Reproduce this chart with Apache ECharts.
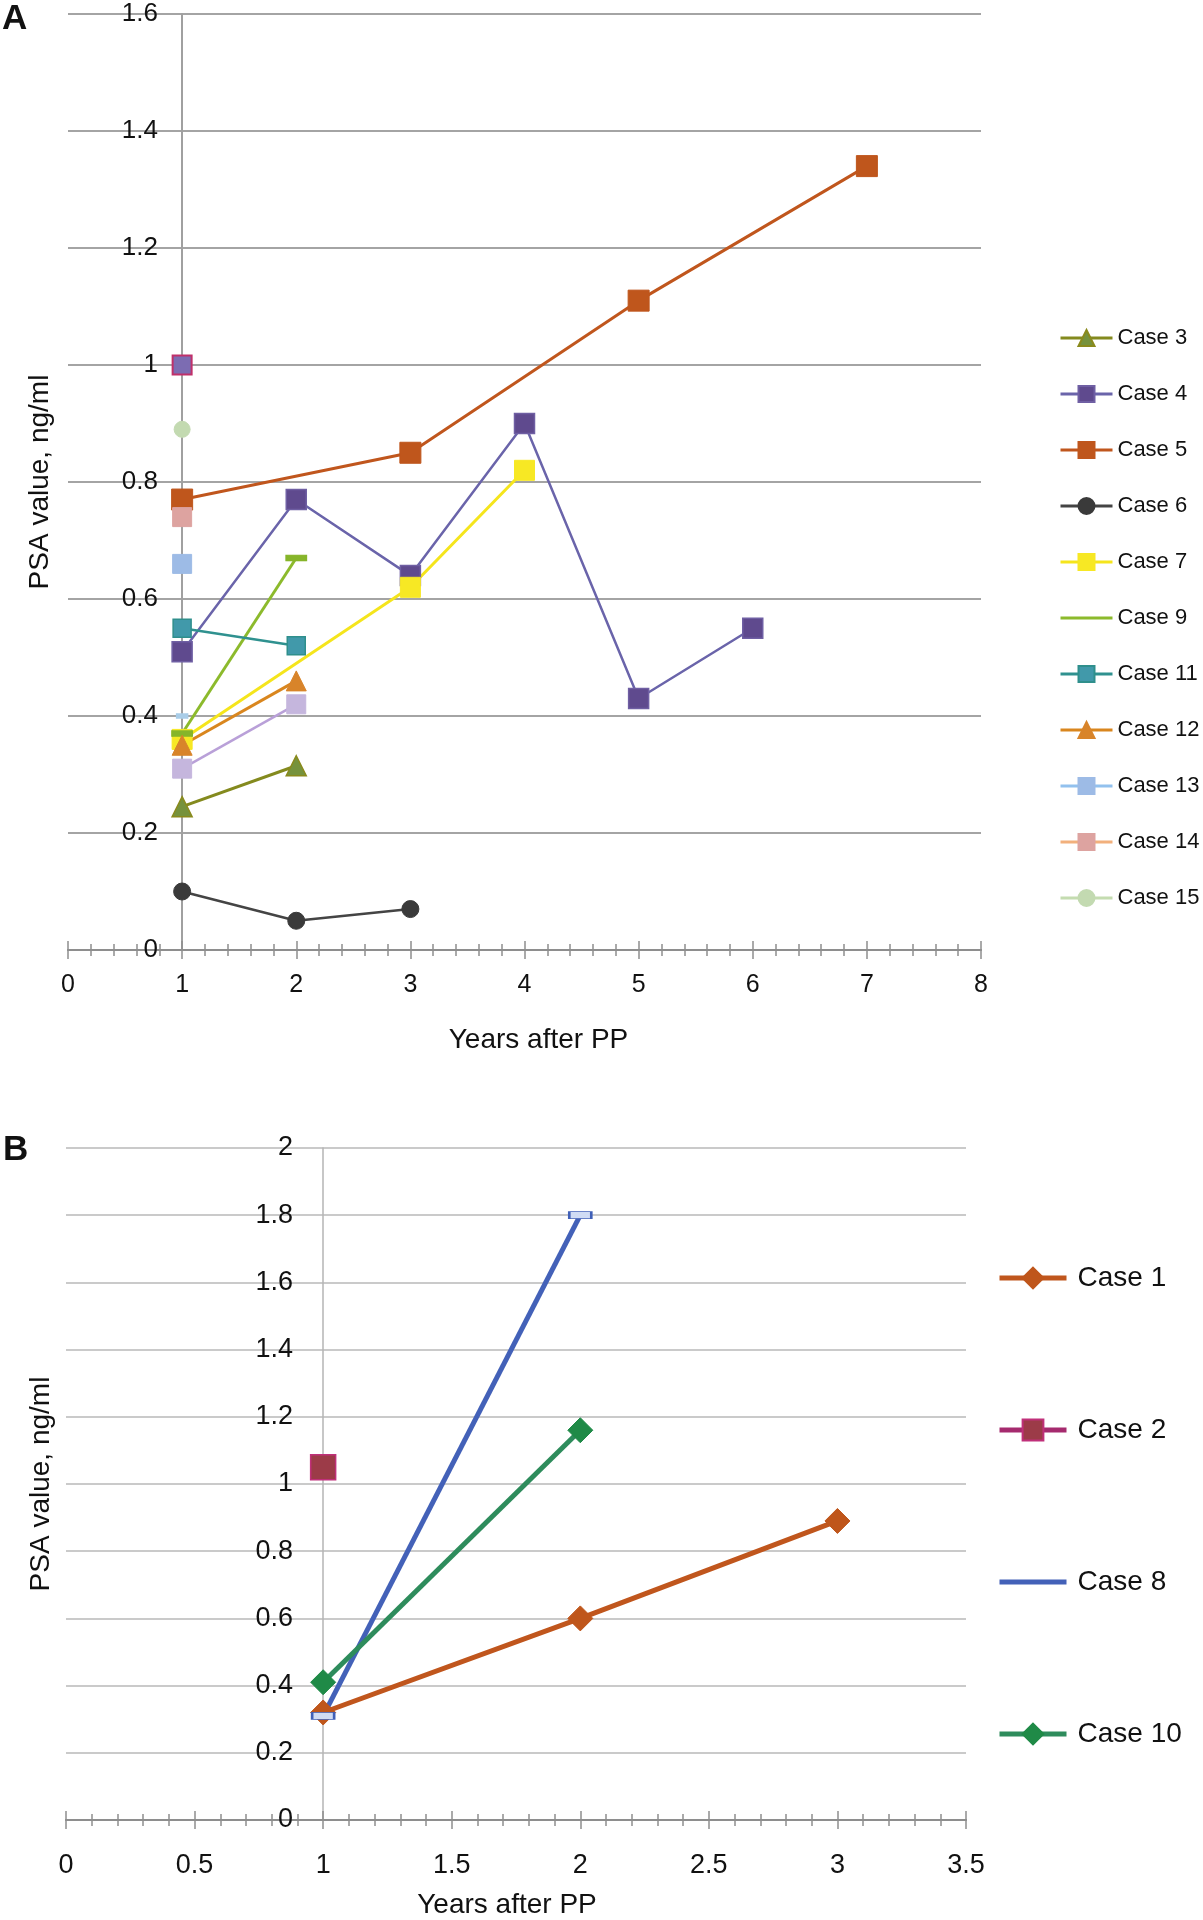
<!DOCTYPE html>
<html><head><meta charset="utf-8">
<script src="https://cdn.jsdelivr.net/npm/echarts@6/dist/echarts.min.js"></script>
<style>html,body{margin:0;padding:0;background:#fff}#c{width:1203px;height:1920px}</style>
</head><body><div id="c"></div>
<script>
// ---------- Panel A data: [years after PP, PSA ng/ml] ----------
const case3  = [[1,0.245],[2,0.315]];
const case4  = [[1,0.51],[2,0.77],[3,0.64],[4,0.90],[5,0.43],[6,0.55]];
const case5  = [[1,0.77],[3,0.85],[5,1.11],[7,1.34]];
const case6  = [[1,0.10],[2,0.05],[3,0.07]];
const case7  = [[1,0.36],[3,0.62],[4,0.82]];
const case9  = [[1,0.37],[2,0.67]];
const case11 = [[1,0.55],[2,0.52]];
const case12 = [[1,0.35],[2,0.46]];
const case13 = [[1,0.66]];
const case14 = [[1,0.74]];
const case15 = [[1,0.89]];
const extraLavender = [[1,0.31],[2,0.42]];
const extraAtOne    = [[1,1.0]];
const extraDash     = [[1,0.40]];
const legendA = ['Case 3','Case 4','Case 5','Case 6','Case 7','Case 9','Case 11','Case 12','Case 13','Case 14','Case 15'];

// ---------- Panel B data ----------
const case1  = [[1,0.32],[2,0.60],[3,0.89]];
const case2  = [[1,1.05]];
const case8  = [[1,0.31],[2,1.80]];
const case10 = [[1,0.41],[2,1.16]];
const legendB = ['Case 1','Case 2','Case 8','Case 10'];

const FONT = "'Liberation Sans', Arial, Helvetica, sans-serif";
const TXT = '#111111';
const DASH = 'path://M0,0H10V3H0Z';
const NO_SYMBOL_IN_LEGEND = ['Case 9', 'Case 8'];

function mk(name, data, lineColor, markColor, symbol, size, lw, xi, yi, extra) {
  const s = {
    name, type: 'line', data, xAxisIndex: xi, yAxisIndex: yi,
    symbol, symbolSize: size, symbolKeepAspect: false, showAllSymbol: true,
    lineStyle: { color: lineColor, width: lw },
    itemStyle: { color: markColor, borderColor: markColor, borderWidth: 1, opacity: 1 },
    emphasis: { disabled: true }, animation: false, z: 3
  };
  if (extra && extra.border) { s.itemStyle.borderColor = extra.border; s.itemStyle.borderWidth = extra.bw || 1.5; }
  return s;
}

function legendItems(names) {
  return names.map(n => NO_SYMBOL_IN_LEGEND.indexOf(n) >= 0
    ? { name: n, itemStyle: { opacity: 0 } }
    : { name: n });
}

const axisGrayA = '#8e8e8e';
function xAxisPair(grid, min, max, interval, labelSize, margin, nameGap, namePad) {
  const common = {
    type: 'value', gridIndex: grid, min, max, interval, position: 'bottom',
    axisLine: { show: true, onZero: false, lineStyle: { color: axisGrayA, width: 2 } },
    splitLine: { show: false }
  };
  return [
    Object.assign({}, common, {
      axisTick: { show: true, length: 9, lineStyle: { color: axisGrayA, width: 1.5 } },
      minorTick: { show: true, splitNumber: 5, length: 6, lineStyle: { color: axisGrayA, width: 1.5 } },
      axisLabel: { fontSize: labelSize, color: TXT, fontFamily: FONT, margin, lineHeight: labelSize },
      name: 'Years after PP', nameLocation: 'middle', nameGap,
      nameTextStyle: { fontSize: 28, color: TXT, fontFamily: FONT, lineHeight: 28, padding: namePad }
    }),
    Object.assign({}, common, {
      axisTick: { show: true, inside: true, length: 9, lineStyle: { color: axisGrayA, width: 1.5 } },
      minorTick: { show: true, splitNumber: 5, length: 6, lineStyle: { color: axisGrayA, width: 1.5 } },
      axisLabel: { show: false }
    })
  ];
}

const option = {
  backgroundColor: '#ffffff',
  animation: false,
  textStyle: { fontFamily: FONT },
  grid: [
    { left: 68, top: 14, width: 913, height: 936 },
    { left: 66, top: 1148, width: 900, height: 674 }
  ],
  xAxis: [].concat(
    xAxisPair(0, 0, 8, 1, 25, 23, 76, [0, 0, 0, 28]),
    xAxisPair(1, 0, 3.5, 0.5, 27, 32, 71, [0, 18, 0, 0])
  ),
  yAxis: [
    {
      type: 'value', gridIndex: 0, min: 0, max: 1.6, interval: 0.2, offset: -114,
      axisLine: { show: true, onZero: false, lineStyle: { color: '#a0a0a0', width: 2 } },
      axisTick: { show: false },
      axisLabel: { fontSize: 26, color: TXT, fontFamily: FONT, margin: 24 },
      splitLine: { show: true, lineStyle: { color: '#a4a4a4', width: 2 } },
      name: 'PSA value, ng/ml', nameLocation: 'middle', nameGap: 128, nameRotate: 90,
      nameTextStyle: { fontSize: 28, color: TXT, fontFamily: FONT }
    },
    {
      type: 'value', gridIndex: 1, min: 0, max: 2, interval: 0.2, offset: -257,
      axisLine: { show: true, onZero: false, lineStyle: { color: '#b4b4b4', width: 1.5 } },
      axisTick: { show: false },
      axisLabel: { fontSize: 27, color: TXT, fontFamily: FONT, margin: 30 },
      splitLine: { show: true, lineStyle: { color: '#b8b8b8', width: 1.5 } },
      name: 'PSA value, ng/ml', nameLocation: 'middle', nameGap: 268, nameRotate: 90,
      nameTextStyle: { fontSize: 28, color: TXT, fontFamily: FONT }
    }
  ],
  legend: [
    {
      data: legendItems(legendA), orient: 'vertical', left: 1054, top: 322,
      itemWidth: 52, itemHeight: 20, itemGap: 34,
      lineStyle: { width: 3 },
      textStyle: { fontSize: 22, color: TXT, fontFamily: FONT, lineHeight: 22 },
      selectedMode: false
    },
    {
      data: legendItems(legendB), orient: 'vertical', left: 992, top: 1259,
      itemWidth: 67, itemHeight: 26, itemGap: 124,
      lineStyle: { width: 5 },
      textStyle: { fontSize: 28, color: TXT, fontFamily: FONT, lineHeight: 28, padding: [0, 0, 0, 6] },
      selectedMode: false
    }
  ],
  graphic: [
    { type: 'text', left: 2, top: 2, style: { text: 'A', fontSize: 35, fontWeight: 'bold', fontFamily: FONT, fill: TXT } },
    { type: 'text', left: 3, top: 1133, style: { text: 'B', fontSize: 35, fontWeight: 'bold', fontFamily: FONT, fill: TXT } }
  ],
  series: [
    mk('Case 3',  case3,  '#848a1e', '#76923c', 'triangle', 20, 3, 0, 0, { border: '#8a8a1c' }),
    mk('Case 4',  case4,  '#6a64aa', '#5f4a8e', 'rect', 20, 2.5, 0, 0, { border: '#6f5fa3' }),
    mk('Case 5',  case5,  '#c0561d', '#bf561c', 'rect', 21, 3, 0, 0),
    mk('Case 6',  case6,  '#444444', '#3a3a3a', 'circle', 17, 2.5, 0, 0),
    mk('Case 7',  case7,  '#f5e51c', '#f7e824', 'rect', 20, 3, 0, 0),
    mk('Case 9',  case9,  '#8cba2c', '#86b52a', DASH, [20, 6], 3, 0, 0),
    mk('Case 11', case11, '#2f918f', '#4199aa', 'rect', 18, 2.5, 0, 0, { border: '#2f8f8c' }),
    mk('Case 12', case12, '#d9861e', '#d8842a', 'triangle', 20, 3, 0, 0),
    mk('Case 13', case13, '#92c1ee', '#9dbbe6', 'rect', 19, 3, 0, 0),
    mk('Case 14', case14, '#f2b07c', '#dda3a0', 'rect', 19, 3, 0, 0),
    mk('Case 15', case15, '#c4dcb0', '#c3dab1', 'circle', 16, 3, 0, 0),
    mk('A-extra-1', extraLavender, '#b9a0d8', '#c5b6dd', 'rect', 19, 2.5, 0, 0),
    mk('A-extra-2', extraAtOne, '#b02c5c', '#7c6cb2', 'rect', 19, 2, 0, 0, { border: '#c0306a', bw: 2 }),
    mk('A-extra-3', extraDash, '#a9cde8', '#a9cde8', DASH, [11, 5], 2, 0, 0),

    mk('Case 1',  case1,  '#c0561d', '#bf561b', 'diamond', 25, 5, 2, 1),
    mk('Case 2',  case2,  '#a52a6e', '#9c3b48', 'rect', 25, 5, 2, 1, { border: '#c0307a', bw: 1.5 }),
    mk('Case 8',  case8,  '#4361b8', '#d0dcf4', DASH, [22, 7], 5, 2, 1, { border: '#4060b8', bw: 1.5 }),
    mk('Case 10', case10, '#2e8c5c', '#1f8a47', 'diamond', 25, 5, 2, 1)
  ]
};

const chart = echarts.init(document.getElementById('c'), null, { renderer: 'canvas' });
chart.setOption(option);
</script>
</body></html>
